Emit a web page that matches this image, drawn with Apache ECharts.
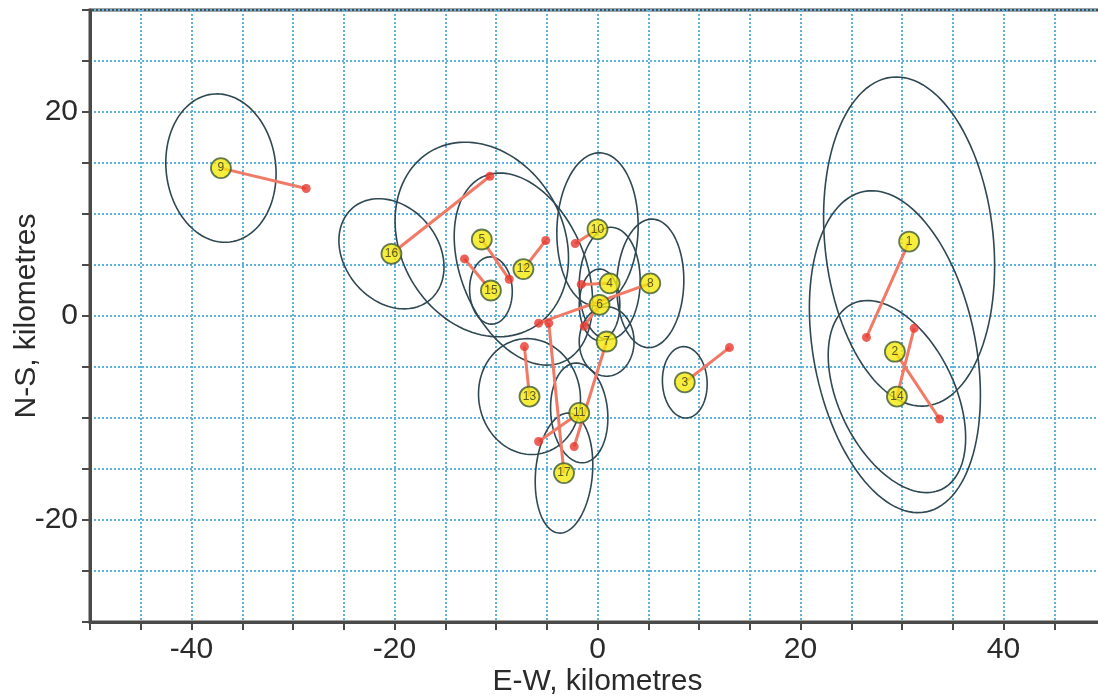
<!DOCTYPE html>
<html>
<head>
<meta charset="utf-8">
<script src="https://cdn.jsdelivr.net/npm/echarts@6/dist/echarts.min.js"></script>
<style>
html,body{margin:0;padding:0;background:#fff;}
#chart{width:1098px;height:698px;}
</style>
</head>
<body>
<div id="chart"></div>
<script>
// Event numbers
const eventIds = [1,2,3,4,5,6,7,8,9,10,11,12,13,14,15,16,17];
// Initial locations (yellow markers), km
const initX = [30.7, 29.3, 8.6, 1.2, -11.4, 0.2, 0.9, 5.2, -37.1, 0.0, -1.8, -7.3, -6.7, 29.5, -10.5, -20.3, -3.3];
const initY = [7.3, -3.5, -6.5, 3.2, 7.5, 1.1, -2.5, 3.2, 14.5, 8.5, -9.5, 4.6, -7.9, -7.9, 2.5, 6.1, -15.4];
// Relocated positions (red dots), km
const relX = [26.5, 33.7, 13.0, -1.6, -8.7, -1.3, -2.3, -5.8, -28.7, -2.2, -5.8, -5.1, -7.2, 31.2, -13.1, -10.6, -4.8];
const relY = [-2.1, -10.1, -3.1, 3.1, 3.6, -1.0, -12.8, -0.7, 12.5, 7.1, -12.3, 7.4, -3.0, -1.2, 5.6, 13.7, -0.7];
// Error ellipses: semi-axis along angle, perpendicular semi-axis, angle (deg from E)
const ellA = [16.2, 16.0, 3.5, 5.5, 10.0, 3.5, 3.4, 6.3, 7.3, 7.5, 4.9, 9.9, 5.7, 10.1, 3.3, 5.9, 5.9];
const ellB = [8.3, 8.0, 2.2, 3.0, 8.0, 2.0, 2.7, 3.3, 5.4, 4.0, 2.8, 6.1, 5.0, 5.7, 2.1, 4.6, 2.8];
const ellT = [96, 101, 93, 88, 120, 90, 90, 88, 97, 88, 95, 113, 100, 116, 92, 130, 85];
// Axis tick labels
const xTickLabels = [-40, -20, 0, 20, 40];
const yTickLabels = [-20, 0, 20];

const ellipseData = eventIds.map((id, i) => [initX[i], initY[i], ellA[i], ellB[i], ellT[i]]);
const segData = eventIds.map((id, i) => [initX[i], initY[i], relX[i], relY[i]]);
const relData = eventIds.map((id, i) => [relX[i], relY[i]]);
const initData = eventIds.map((id, i) => ({value: [initX[i], initY[i]], name: String(id)}));

const font = 'Liberation Sans, Arial, sans-serif';
const chart = echarts.init(document.getElementById('chart'));
chart.setOption({
  animation: false,
  backgroundColor: '#ffffff',
  grid: {left: 90, top: 10, width: 1015, height: 612, containLabel: false, outerBoundsMode: 'none',
    show: true, borderColor: '#4a4a4a', borderWidth: 3, backgroundColor: 'transparent'},
  xAxis: {
    type: 'value', min: -50, max: 50, interval: 5,
    name: 'E-W, kilometres', nameLocation: 'middle', nameGap: 45, nameMoveOverlap: false,
    nameTextStyle: {fontFamily: font, fontSize: 30, color: '#2a2a2a'},
    axisLine: {show: true, onZero: false, lineStyle: {color: '#4a4a4a', width: 3}},
    axisTick: {show: true, length: 8, lineStyle: {color: '#4a4a4a', width: 2}},
    axisLabel: {fontFamily: font, fontSize: 30, color: '#2a2a2a', margin: 13, hideOverlap: false,
      formatter: v => xTickLabels.indexOf(v) >= 0 ? String(v) : ''},
    splitLine: {show: true, lineStyle: {color: '#5fb3dc', width: 2, type: [2, 2]}}
  },
  yAxis: {
    type: 'value', min: -30, max: 30, interval: 5,
    name: 'N-S, kilometres', nameLocation: 'middle', nameGap: 48, nameRotate: 90, nameMoveOverlap: false,
    nameTextStyle: {fontFamily: font, fontSize: 30, color: '#2a2a2a'},
    axisLine: {show: true, onZero: false, lineStyle: {color: '#4a4a4a', width: 3}},
    axisTick: {show: true, length: 8, lineStyle: {color: '#4a4a4a', width: 2}},
    axisLabel: {fontFamily: font, fontSize: 30, color: '#2a2a2a', margin: 12,
      formatter: v => yTickLabels.indexOf(v) >= 0 ? String(v) : ''},
    splitLine: {show: true, lineStyle: {color: '#5fb3dc', width: 2, type: [2, 2]}}
  },
  series: [
    {
      type: 'custom', z: 2, data: ellipseData,
      renderItem: (params, api) => {
        const cx = api.value(0), cy = api.value(1), a = api.value(2), b = api.value(3);
        const t = api.value(4) * Math.PI / 180;
        const pts = [];
        for (let k = 0; k < 120; k++) {
          const p = 2 * Math.PI * k / 120;
          const dx = a * Math.cos(p) * Math.cos(t) - b * Math.sin(p) * Math.sin(t);
          const dy = a * Math.cos(p) * Math.sin(t) + b * Math.sin(p) * Math.cos(t);
          pts.push(api.coord([cx + dx, cy + dy]));
        }
        return {type: 'polygon', shape: {points: pts}, style: {fill: 'none', stroke: '#2f4852', lineWidth: 1.6}};
      }
    },
    {
      type: 'custom', z: 3, data: segData,
      renderItem: (params, api) => {
        const p1 = api.coord([api.value(0), api.value(1)]);
        const p2 = api.coord([api.value(2), api.value(3)]);
        return {type: 'line', shape: {x1: p1[0], y1: p1[1], x2: p2[0], y2: p2[1]},
          style: {stroke: '#f07a66', lineWidth: 3}};
      }
    },
    {
      type: 'scatter', z: 4, data: relData, symbol: 'circle', symbolSize: 9,
      itemStyle: {color: '#e8382e'}
    },
    {
      type: 'scatter', z: 5, data: initData, symbol: 'circle', symbolSize: 20,
      itemStyle: {color: '#f4e80c', borderColor: '#3f5a33', borderWidth: 1.8},
      label: {show: true, position: 'inside', formatter: p => p.name,
        fontFamily: font, fontSize: 12, color: '#333322'}
    }
  ]
});
</script>
</body>
</html>
